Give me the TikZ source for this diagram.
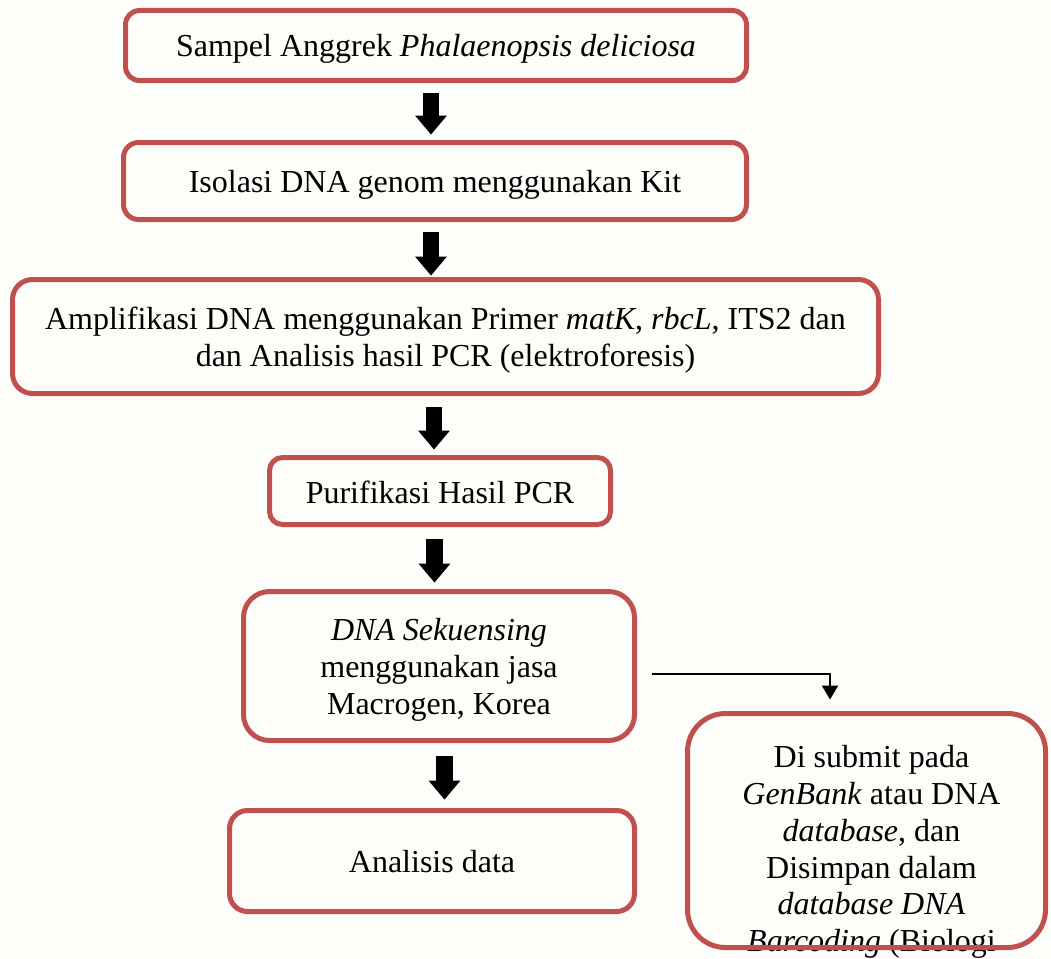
\documentclass[tikz,border=0pt]{standalone}
\usepackage{fontspec}
\setmainfont{Liberation Serif}
\usetikzlibrary{arrows.meta,calc}
\definecolor{boxred}{HTML}{C0504D}
\definecolor{bgcol}{HTML}{FDFDF9}
\begin{document}
\begin{tikzpicture}[x=1pt,y=-1pt,
  txt/.style={inner sep=0pt, align=center, font=\fontsize{32}{36.8}\selectfont},
  box/.style={draw=boxred, line width=5pt, inner sep=0pt},
  blk/.style={line width=16.5pt, -{Triangle[length=19pt,width=32pt,line width=0pt]}},
  conn/.style={line width=2.5pt, -{Triangle[length=14pt,width=16pt]}}]
\fill[bgcol] (0,0) rectangle (1051,958);
\useasboundingbox (0,0) rectangle (1051,958);
% boxes
\node[box, minimum width=621pt, minimum height=70pt, rounded corners=14pt] (b1) at (436,45.5) {};
\node[box, minimum width=623pt, minimum height=77pt, rounded corners=15pt] (b2) at (435,181) {};
\node[box, minimum width=866pt, minimum height=114pt, rounded corners=20pt] (b3) at (445.5,336.5) {};
\node[box, minimum width=341pt, minimum height=67pt, rounded corners=13pt] (b4) at (440,491) {};
\node[box, minimum width=391pt, minimum height=149pt, rounded corners=26pt] (b5) at (439,666) {};
\node[box, minimum width=405pt, minimum height=101pt, rounded corners=18pt] (b6) at (432,861) {};
% texts
\node[txt] (t1) at ($(b1)+(0,3)$) {Sampel Anggrek \textit{Phalaenopsis deliciosa}};
\node[txt] (t2) at ($(b2)+(0,4)$) {Isolasi DNA genom menggunakan Kit};
\node[txt] (t3) at ($(b3)+(0,4)$) {Amplifikasi DNA menggunakan Primer \textit{matK}, \textit{rbcL}, ITS2 dan\\dan Analisis hasil PCR (elektroforesis)};
\node[txt] (t4) at ($(b4)+(0,1)$) {Purifikasi Hasil PCR};
\node[txt] (t5) at ($(b5)+(0,4)$) {\textit{DNA Sekuensing}\\menggunakan jasa\\Macrogen, Korea};
\node[txt] (t6) at ($(b6)+(0,1)$) {Analisis data};
\node[txt] (t7) at (871.5,852) {Di submit pada\\\textit{GenBank} atau DNA\\\textit{database}, dan\\Disimpan dalam\\\textit{database DNA}\\\textit{Barcoding} (Biologi};
\node[box, minimum width=358pt, minimum height=234pt, rounded corners=38pt] (b7) at (866.5,830.5) {};
% connectors
\draw[blk] ($(b1.south)+(-5,9.5)$) -- ++(0,42);
\draw[blk] ($(b2.south)+(-4,9.5)$) -- ++(0,44);
\draw[blk] ($(b3.south)+(-11.5,10.5)$) -- ++(0,43);
\draw[blk] ($(b4.south)+(-5.5,11.5)$) -- ++(0,44);
\draw[blk] ($(b5.south)+(5.5,12.5)$) -- ++(0,44);
\draw[conn] ($(b5.east)+(14.5,8)$) -| ($(b7.north)+(-36.5,-11.5)$);
\end{tikzpicture}
\end{document}
